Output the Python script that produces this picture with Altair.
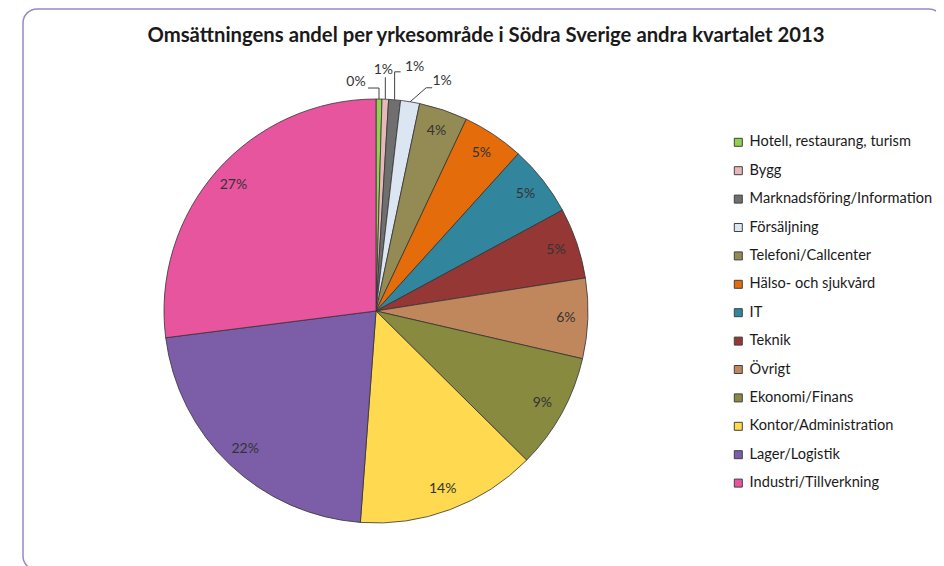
import math
import altair as alt
import pandas as pd

# ---- data ----
categories = [
    "Hotell, restaurang, turism", "Bygg", "Marknadsföring/Information",
    "Försäljning", "Telefoni/Callcenter", "Hälso- och sjukvård", "IT",
    "Teknik", "Övrigt", "Ekonomi/Finans", "Kontor/Administration",
    "Lager/Logistik", "Industri/Tillverkning",
]
values = [0.45, 0.5, 0.9, 1.45, 3.7, 4.7, 5.4, 5.4, 6.1, 8.8, 13.75, 21.8, 27.0]
labels = ["0%", "1%", "1%", "1%", "4%", "5%", "5%", "5%", "6%", "9%", "14%", "22%", "27%"]
colors = [
    "#92D050", "#E6B9B8", "#6F6F6F", "#DCE6F2", "#948A54", "#E46C0A",
    "#31859C", "#953735", "#C0875D", "#878A3F", "#FFD94F", "#7B5EA7",
    "#E8559F",
]
title_text = "Omsättningens andel per yrkesområde i Södra Sverige andra kvartalet 2013"

# ---- layout ----
CX, CY, R = 368, 303, 212
FONT = "Lato"
n_outside = 4
# leader / label offsets relative to the slice anchor (layout only)
elbow_off = [(0, -11), (0, -22), (0, -28), (16, -14)]
end_off = [(-11, -11), (0, -22), (6, -28), (22, -14)]
label_off = [(-23, -17), (-2, -29), (20, -33), (32, -21)]

df = pd.DataFrame({
    "cat": categories,
    "value": values,
    "idx": list(range(len(categories))),
    "inside": [("" if i < n_outside else l) for i, l in enumerate(labels)],
})

total = sum(values)
cum = 0.0
line_rows, out_rows = [], []
for i, v in enumerate(values):
    mid = (cum + v / 2) / total * 2 * math.pi
    cum += v
    if i < n_outside:
        ax = CX + R * math.sin(mid)
        ay = CY - R * math.cos(mid)
        pts = [(ax, ay), (ax + elbow_off[i][0], ay + elbow_off[i][1]),
               (ax + end_off[i][0], ay + end_off[i][1])]
        for s, (px, py) in enumerate(pts):
            line_rows.append({"cat": categories[i], "step": s, "px": px, "py": py})
        out_rows.append({"cat": categories[i], "label": labels[i],
                         "px": ax + label_off[i][0], "py": ay + label_off[i][1]})
lines_df = pd.DataFrame(line_rows)
out_df = pd.DataFrame(out_rows)

base = alt.Chart(df).encode(
    theta=alt.Theta("value:Q", stack=True),
    order=alt.Order("idx:Q"),
    x=alt.value(CX),
    y=alt.value(CY),
)

pie = base.mark_arc(outerRadius=R, stroke="#333333", strokeWidth=0.8).encode(
    color=alt.Color(
        "cat:N",
        scale=alt.Scale(domain=categories, range=colors),
        sort=categories,
        legend=alt.Legend(
            title=None,
            orient="none",
            legendX=723,
            legendY=127,
            symbolType="square",
            symbolSize=64,
            symbolStrokeColor="#404040",
            symbolStrokeWidth=1,
            labelFont=FONT,
            labelFontSize=14.6,
            labelColor="#1a1a1a",
            rowPadding=13.4,
            labelOffset=4,
            padding=0,
            labelLimit=300,
        ),
    )
)

inside_text = base.mark_text(radius=190, font=FONT, fontSize=14, color="#333333").encode(
    text="inside:N"
)

leaders = alt.Chart(lines_df).mark_line(color="#404040", strokeWidth=1).encode(
    x=alt.X("px:Q", scale=None),
    y=alt.Y("py:Q", scale=None),
    detail="cat:N",
    order="step:Q",
)

outside_text = alt.Chart(out_df).mark_text(font=FONT, fontSize=14, color="#333333").encode(
    x=alt.X("px:Q", scale=None),
    y=alt.Y("py:Q", scale=None),
    text="label:N",
)

title = alt.Chart(alt.Data(values=[{}])).mark_text(
    font=FONT, fontSize=20.3, fontWeight="bold", color="#1a1a1a", baseline="middle"
).encode(x=alt.value(478), y=alt.value(28), text=alt.value(title_text))

border = alt.Chart(alt.Data(values=[{}])).mark_rect(
    fill="white", stroke="#9B87C9", strokeWidth=1.5, cornerRadius=14
).encode(x=alt.value(15), x2=alt.value(935), y=alt.value(1), y2=alt.value(562))

chart = alt.layer(border, pie, inside_text, leaders, outside_text, title).properties(
    width=928, height=558, padding=0,
    autosize=alt.AutoSizeParams(type="none"),
).configure_view(stroke=None)

chart.save("out.html", embed_options={"renderer": "svg", "actions": False})
